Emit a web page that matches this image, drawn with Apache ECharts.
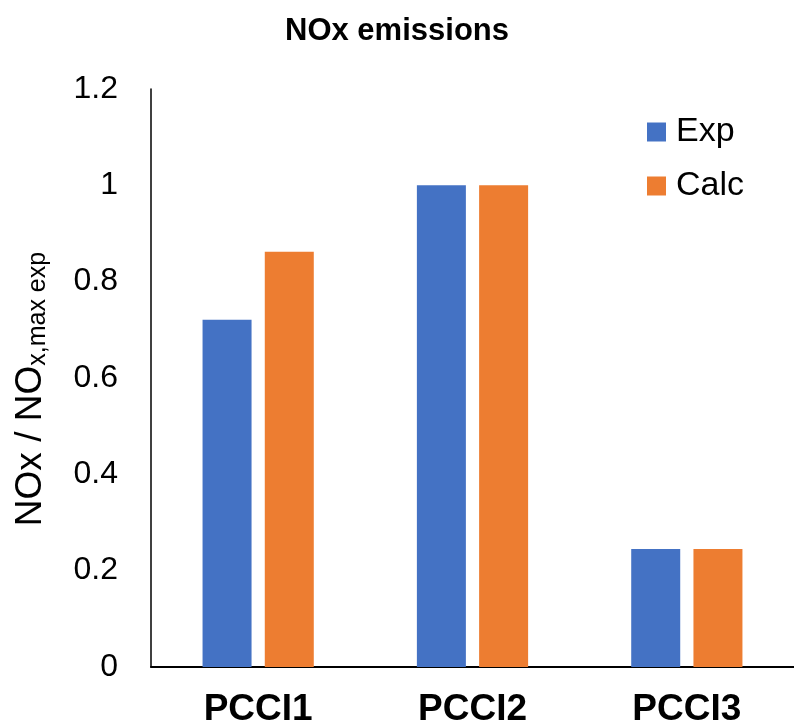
<!DOCTYPE html>
<html><head><meta charset="utf-8">
<script src="https://cdn.jsdelivr.net/npm/echarts@6/dist/echarts.min.js"></script>
<style>html,body{margin:0;padding:0;background:#fff}#c{width:794px;height:728px}</style>
</head><body><div id="c"></div>
<script>
const categories = ['PCCI1', 'PCCI2', 'PCCI3'];
const expValues = [0.721, 1.0, 0.245];
const calcValues = [0.862, 1.0, 0.245];
const seriesNames = ['Exp', 'Calc'];

const chart = echarts.init(document.getElementById('c'));
const font = '"Liberation Sans", Arial, sans-serif';
chart.setOption({
  animation: false,
  textStyle: { fontFamily: font },
  title: {
    text: 'NOx emissions', left: 'center', top: 11,
    textStyle: { fontFamily: font, fontSize: 31, fontWeight: 'bold', color: '#000' }
  },
  legend: {
    orient: 'vertical', left: 642, top: 110,
    itemWidth: 19, itemHeight: 19, itemGap: 20,
    icon: 'rect',
    textStyle: { fontFamily: font, fontSize: 34, lineHeight: 34, color: '#000', padding: [0, 0, 0, 5] },
    data: seriesNames
  },
  grid: { left: 151, top: 89, bottom: 58, width: 650, containLabel: false },
  xAxis: {
    type: 'category', data: categories,
    axisLine: { lineStyle: { color: '#000', width: 2 } },
    axisTick: { show: false },
    axisLabel: { fontFamily: font, fontSize: 37, fontWeight: 'bold', color: '#000', margin: 24 }
  },
  yAxis: {
    type: 'value', min: 0, max: 1.2, interval: 0.2,
    axisLine: { show: true, lineStyle: { color: '#000', width: 1.5 } },
    axisTick: { show: false },
    splitLine: { show: false },
    axisLabel: {
      fontFamily: font, fontSize: 32, color: '#000', margin: 33,
      formatter: v => String(Math.round(v * 10) / 10)
    },
    name: '{a|NOx / NO}{b|x,max exp}',
    nameLocation: 'middle', nameGap: 100, nameRotate: 90,
    nameTextStyle: {
      rich: {
        a: { fontFamily: font, fontSize: 37, color: '#000', lineHeight: 40 },
        b: { fontFamily: font, fontSize: 25, color: '#000', verticalAlign: 'bottom', padding: [18, 22, 0, 0], lineHeight: 40 }
      }
    }
  },
  series: [
    { name: seriesNames[0], type: 'bar', data: expValues, barWidth: 49, barGap: '27%', itemStyle: { color: '#4472C4' } },
    { name: seriesNames[1], type: 'bar', data: calcValues, barWidth: 49, barGap: '27%', itemStyle: { color: '#ED7D31' } }
  ]
});
</script></body></html>
